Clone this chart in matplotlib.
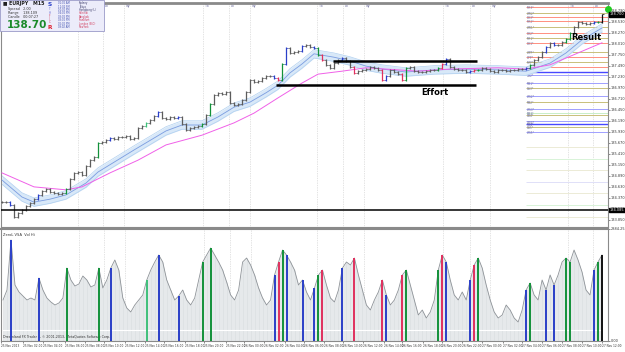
import matplotlib
matplotlib.use('Agg')
import matplotlib.pyplot as plt
from matplotlib.patches import Rectangle
import numpy as np

# ---------------- data ----------------
# EURJPY M15 closes (sampled every ~4 px of the original chart)
closes = [134.27, 134.28, 134.20, 133.92, 134.01, 134.08, 134.18, 134.25, 134.34, 134.44,
          134.53, 134.58, 134.51, 134.49, 134.46, 134.49, 134.58, 134.82, 134.96, 134.98,
          134.91, 135.12, 135.26, 135.33, 135.67, 135.69, 135.74, 135.78, 135.76, 135.81,
          135.81, 135.83, 135.76, 135.78, 136.02, 136.07, 136.14, 136.21, 136.30, 136.40,
          136.25, 136.23, 136.28, 136.25, 136.28, 136.11, 135.97, 136.02, 136.04, 136.07,
          136.11, 136.33, 136.59, 136.80, 136.85, 136.82, 136.87, 136.61, 136.56, 136.59,
          136.68, 136.87, 137.15, 137.10, 137.13, 137.20, 137.25, 137.25, 137.20, 137.15,
          137.53, 137.91, 137.79, 137.81, 137.84, 137.95, 137.98, 137.93, 137.91, 137.74,
          137.62, 137.51, 137.44, 137.55, 137.62, 137.67, 137.60, 137.46, 137.32, 137.36,
          137.39, 137.41, 137.46, 137.44, 137.39, 137.15, 137.25, 137.39, 137.34, 137.29,
          137.15, 137.44, 137.46, 137.36, 137.34, 137.34, 137.36, 137.39, 137.39, 137.44,
          137.53, 137.65, 137.46, 137.41, 137.39, 137.39, 137.34, 137.36, 137.39, 137.39,
          137.44, 137.41, 137.36, 137.34, 137.39, 137.39, 137.36, 137.39, 137.39, 137.41,
          137.41, 137.44, 137.51, 137.62, 137.69, 137.81, 137.93, 138.03, 137.98, 137.98,
          138.05, 138.12, 138.26, 138.40, 138.52, 138.50, 138.47, 138.50, 138.52, 138.52,
          138.70]

# tick volume, same bars
volume = [1056, 1313, 2601, 1442, 1262, 1159, 1056, 1107, 1056, 1622,
          1313, 1107, 1004, 927, 979, 1107, 1880, 1571, 1416, 1468,
          1674, 1571, 1391, 1442, 1880, 1365, 1571, 1880, 2086, 1828,
          1107, 850, 747, 927, 1056, 1185, 1571, 1828, 2034, 2215,
          2034, 1571, 1313, 1056, 1159, 1313, 1056, 927, 1107, 1571,
          2034, 2215, 2395, 2215, 2034, 1828, 1519, 1185, 1056, 1313,
          2034, 2137, 1957, 1700, 1365, 1107, 927, 1056, 1700, 2034,
          2343, 2215, 2034, 1828, 1442, 1571, 1262, 1056, 1365, 1700,
          1828, 1442, 1107, 1004, 1313, 1880, 2034, 1957, 2137, 1700,
          1313, 927, 798, 1056, 1262, 1571, 1185, 927, 1056, 1313,
          1700, 1828, 1442, 1056, 670, 798, 592, 747, 1056, 1828,
          2215, 2034, 1571, 1185, 1056, 1262, 1056, 1571, 1957, 2137,
          1880, 1442, 1056, 747, 592, 670, 927, 798, 592, 489,
          798, 1313, 1494, 1185, 1056, 1571, 1313, 1700, 1442, 1700,
          2034, 2137, 2034, 2343, 2086, 1777, 1313, 1185, 1828, 2034,
          2215]

# VSA highlighted bars (index, colour)
mark_idx = [2, 9, 16, 24, 27, 36, 39, 44, 50, 52, 68, 69, 70, 71, 75, 78, 79, 80,
            85, 88, 95, 96, 100, 101, 109, 110, 111, 117, 118, 119, 131, 132, 136,
            138, 141, 142, 148, 149, 150]
mark_col = ['b', 'b', 'g', 'g', 'b', 'lg', 'b', 'b', 'g', 'g', 'b', 'r', 'g', 'b', 'b',
            'b', 'g', 'r', 'b', 'r', 'r', 'b', 'r', 'g', 'g', 'r', 'b', 'b', 'r', 'g',
            'b', 'g', 'b', 'b', 'g', 'g', 'b', 'g', 'k']

# moving averages (bar index, price)
ema_fast_idx = [0, 5, 8, 12, 16, 21, 24, 33, 41, 45, 50, 54, 58, 62, 66, 69, 72, 75,
                78, 83, 87, 91, 95, 101, 108, 116, 124, 131, 137, 141, 145, 150]
ema_fast = [134.79, 134.39, 134.27, 134.34, 134.44, 134.72, 134.98, 135.50, 135.95,
            136.09, 136.09, 136.28, 136.51, 136.63, 136.85, 137.03, 137.32, 137.53,
            137.77, 137.69, 137.60, 137.48, 137.41, 137.34, 137.39, 137.41, 137.39,
            137.36, 137.55, 137.79, 138.10, 138.38]
ma_slow_idx = [0, 8, 16, 20, 27, 34, 41, 50, 58, 63, 69, 75, 79, 85, 91, 104, 112,
               124, 131, 137, 141, 150]
ma_slow = [134.96, 134.63, 134.56, 134.63, 134.96, 135.26, 135.62, 135.85, 136.14,
           136.37, 136.73, 137.08, 137.29, 137.36, 137.44, 137.36, 137.41, 137.44,
           137.41, 137.51, 137.67, 138.03]

# pivot levels on the right
pivot_levels = [138.875, 138.733, 138.639, 138.544, 138.403, 138.261, 138.143, 138.025,
                137.813, 137.695, 137.577, 137.459, 137.341, 137.270, 137.081, 136.963,
                136.774, 136.633, 136.468, 136.373, 136.326, 136.184, 136.114, 136.043,
                135.925, 135.571, 135.288, 135.028, 134.745, 134.485, 134.202, 133.919]
pivot_kind = ['s', 'k', 's', 's', 'k', 's', 'k', 's', 'k', 's', 'k', 's', 'B', 'b',
              'b', 'k', 'b', 'k', 'b', 'g', 'k', 'b', 'B', 'k', 'b',
              'fk', 'fg', 'fk', 'fb', 'fk', 'fg', 'fk']
pivot_names = ['MR3*', 'WR2*', 'DR3*', 'MR2*', 'WR1*', 'DR2*', 'MR1*', 'DR1*', 'WPP*',
               'DPP*', 'MPP*', 'DS1*', 'WS1*', 'DS2*', 'MS1*', 'DS3*', 'WS2*', 'MS2*',
               'WS3*', 'MS3*', 'DS4*', 'WS4*', 'MS4*', 'DS5*', 'WS5*',
               '', '', '', '', '', '', '']

# key levels
support_level = 134.085
effort_top, effort_top_span = 137.60, (82.75, 118.75)
effort_bot, effort_bot_span = 137.03, (68.5, 118.5)

# session separators (bar positions) and their tags
session_pos = [19, 25.25, 30.5, 50.25, 56.75, 62, 78.75, 85.25, 90.5, 110.25, 117,
               122, 141.5, 147.75]
session_tag = ['Tk', 'Lo', 'Ny'] * 4 + ['Tk', 'Lo']

# time axis labels
time_pos = [-0.5, 5, 10, 15.5, 20.5, 25.25, 30.5, 35.5, 40.25, 45.5, 50.25, 55.75,
            60.25, 65.25, 70.5, 75.25, 80.5, 85.25, 90.25, 95.5, 100, 105.25, 110,
            115, 120, 125.25, 130, 135, 140, 145, 150]
time_lbl = ['25 Nov 2013', '25 Nov 02:00', '25 Nov 04:00', '25 Nov 06:00', '25 Nov 08:00',
            '25 Nov 10:00', '25 Nov 12:00', '25 Nov 14:00', '25 Nov 16:00', '25 Nov 18:00',
            '25 Nov 20:00', '25 Nov 22:00', '26 Nov 00:00', '26 Nov 02:00', '26 Nov 04:00',
            '26 Nov 06:00', '26 Nov 08:00', '26 Nov 10:00', '26 Nov 12:00', '26 Nov 14:00',
            '26 Nov 16:00', '26 Nov 18:00', '26 Nov 20:00', '26 Nov 22:00', '27 Nov 00:00',
            '27 Nov 02:00', '27 Nov 04:00', '27 Nov 06:00', '27 Nov 08:00', '27 Nov 10:00',
            '27 Nov 12:00']

# ---------------- figure ----------------
W, H = 625, 352
PAL = {'b': '#2a3fc8', 'g': '#13913a', 'lg': '#3fc07a', 'r': '#e0305e', 'k': '#111111'}
PIV = {'s': '#ff8f80', 'k': '#c8c07a', 'b': '#a0a0ff', 'B': '#4848ff', 'g': '#c8efc8',
       'fk': '#ecebd6', 'fg': '#d8f3d8', 'fb': '#e0e0f8'}


def box(x0, y0, x1, y1):
    return [x0 / W, 1 - y1 / H, (x1 - x0) / W, (y1 - y0) / H]


fig = plt.figure(figsize=(6.25, 3.52), dpi=100)
fig.patch.set_facecolor('white')

ax = fig.add_axes(box(1, 3, 608, 227))
axv = fig.add_axes(box(1, 229, 608, 341))

n = len(closes)
x = np.arange(n)
xlim = (-0.25, 151.5)

# grid / session separators
for a in (ax, axv):
    for p in session_pos:
        a.axvline(p, color='#c8c8c8', lw=0.5, ls=(0, (1, 1.5)), zorder=0)
for p, t in zip(session_pos, session_tag):
    ax.text(p + 0.4, 138.90, t, fontsize=2.4, color='#7070a0', va='center', zorder=1)

# pivot levels
for lv, kd, nm in zip(pivot_levels, pivot_kind, pivot_names):
    lw = 1.0 if kd == 'B' else 0.7
    ax.hlines(lv, 131, xlim[1], color=PIV[kd], lw=lw, zorder=1)
    if nm:
        ax.text(131.3, lv - 0.035, nm, fontsize=2.1, color='#7070a0', va='center', zorder=2)

# moving averages with band
ax.fill_between(ema_fast_idx, np.array(ema_fast) - 0.10, np.array(ema_fast) + 0.10,
                color='#d8e8f8', lw=0, zorder=2)
ax.plot(ema_fast_idx, np.array(ema_fast) + 0.10, color='#b0d0f0', lw=0.5, zorder=2)
ax.plot(ema_fast_idx, np.array(ema_fast) - 0.10, color='#b0d0f0', lw=0.5, zorder=2)
ax.plot(ema_fast_idx, ema_fast, color='#7a9ce0', lw=0.6, zorder=3)
ax.plot(ma_slow_idx, ma_slow, color='#f060e8', lw=0.7, zorder=3)

# bars
opens = [closes[0]] + closes[:-1]
cols = ['#5c5c5c'] * n
for i, c in zip(mark_idx, mark_col):
    cols[i] = PAL[c]
ax.vlines(x, np.minimum(opens, closes) - 0.02, np.maximum(opens, closes) + 0.02,
          colors=cols, lw=0.9, zorder=4)
ax.hlines(opens, x - 0.5, x, colors=cols, lw=0.5, zorder=4)
ax.hlines(closes, x, x + 0.5, colors=cols, lw=0.5, zorder=4)

# key lines and notes
ax.axhline(support_level, color='black', lw=1.1, zorder=5)
ax.hlines(effort_top, *effort_top_span, color='black', lw=1.8, zorder=5)
ax.hlines(effort_bot, *effort_bot_span, color='black', lw=1.8, zorder=5)
ax.text(108.3, 136.85, 'Effort', fontsize=6, fontweight='bold', ha='center', va='center',
        zorder=6)
ax.text(146.2, 138.16, 'Result', fontsize=6, fontweight='bold', ha='center', va='center',
        zorder=6)
ax.plot([151.4], [138.83], 'o', ms=4, color='#22cc22', clip_on=False, zorder=7)

ax.set_xlim(*xlim)
ax.set_ylim(133.683, 138.969)
ax.set_xticks([])
ax.yaxis.tick_right()
ax.set_yticks(np.arange(133.85, 138.90, 0.26))
ax.yaxis.set_major_formatter(matplotlib.ticker.FormatStrFormatter('%.3f'))
ax.tick_params(axis='y', labelsize=2.5, length=1.2, width=0.4, pad=0.6, colors='#333333')
for lv in (closes[-1], support_level):
    ax.text(1.003, lv, f'{lv:.3f}', transform=ax.get_yaxis_transform(), fontsize=2.5,
            color='white', va='center', ha='left',
            bbox=dict(boxstyle='square,pad=0.12', fc='black', ec='black'), zorder=8)

# ---------------- volume panel ----------------
axv.fill_between(x, volume, color='#e6e9eb', lw=0, zorder=1)
axv.vlines(x, 0, volume, colors='#d9dde0', lw=0.4, zorder=1)
axv.plot(x, volume, color='#8e9398', lw=0.6, zorder=3)
axv.vlines(mark_idx, 0, [volume[i] for i in mark_idx], colors=[PAL[c] for c in mark_col],
           lw=1.4, zorder=4)
axv.axhline(283, color='white', lw=0.8, zorder=2)
axv.set_xlim(*xlim)
axv.set_ylim(0, 2884.25)
axv.yaxis.tick_right()
axv.set_yticks([0, 2884.25])
axv.set_yticklabels(['0.00', '2884.25'])
axv.tick_params(axis='y', labelsize=2.5, length=1.2, width=0.4, pad=0.6, colors='#333333')
axv.set_xticks(time_pos)
axv.set_xticklabels(time_lbl)
axv.tick_params(axis='x', labelsize=2.1, length=1.2, width=0.4, pad=0.8, colors='#333333')
for lab in axv.get_xticklabels():
    lab.set_ha('left')
axv.text(0.004, 0.96, 'ZeroL VSA  Vol Hi', transform=axv.transAxes, fontsize=2.6,
         va='top', color='#333333')
axv.text(0.004, 0.02, 'Dreamland FX Trader 4, \u00a9 2001-2013, MetaQuotes Software Corp.',
         transform=axv.transAxes, fontsize=2.3, va='bottom', color='#333333')

for a in (ax, axv):
    for s in a.spines.values():
        s.set_color('#8a8a8a')
        s.set_linewidth(0.8)
ax.spines['top'].set_linewidth(2.0)
axv.spines['top'].set_linewidth(1.5)

# ---------------- info box (top left) ----------------
fig.add_artist(Rectangle((0, 1 - 31 / H), 104 / W, 31 / H, transform=fig.transFigure,
                         fc='#ececfa', ec='#9a9ac8', lw=0.6, zorder=10))


def ftxt(px, py, s, **kw):
    fig.text(px / W, 1 - py / H, s, va='center', zorder=11, **kw)


ftxt(3, 4, '\u25a0 EURJPY   M15', fontsize=3.4, fontweight='bold', color='#202020')
ftxt(8, 9, 'Spread   2.00', fontsize=2.4, color='#303030')
ftxt(8, 13, 'Range    138.109', fontsize=2.4, color='#303030')
ftxt(8, 17, 'Candle   00:07:27', fontsize=2.4, color='#303030')
ftxt(7, 25, '138.70', fontsize=7.5, fontweight='bold', color='#1a8a2a')
ftxt(48, 4, 'S', fontsize=4.2, fontweight='bold', color='#2a3fc8')
for i, (ch, c) in enumerate(zip('THFIC', ['#6a6ad0', '#6a6ad0', '#d04060', '#d04060', '#d04060'])):
    ftxt(49, 9.5 + 3.2 * i, ch, fontsize=2.0, color=c)
ftxt(48, 27.5, 'R', fontsize=4.2, fontweight='bold', color='#e02030')
times = ['01:02 AM', '11:02 PM', '10:02 PM', '04:02 PM', '03:02 PM', '03:02 PM', '02:02 PM',
         '09:02 AM']
cities = ['Sydney', 'Tokyo', 'Hongkong (L)', 'Helsinki', 'Bangkok', 'Frankfurt', 'London (B.O)',
          'NewYork']
for i, (t, c) in enumerate(zip(times, cities)):
    col = '#303060' if i < 3 else '#d03050'
    ftxt(58, 3.2 + 3.4 * i, t, fontsize=1.8, color='#4050b0')
    ftxt(79, 3.2 + 3.4 * i, c, fontsize=1.8, color=col)

fig.savefig('out.png', dpi=100)
